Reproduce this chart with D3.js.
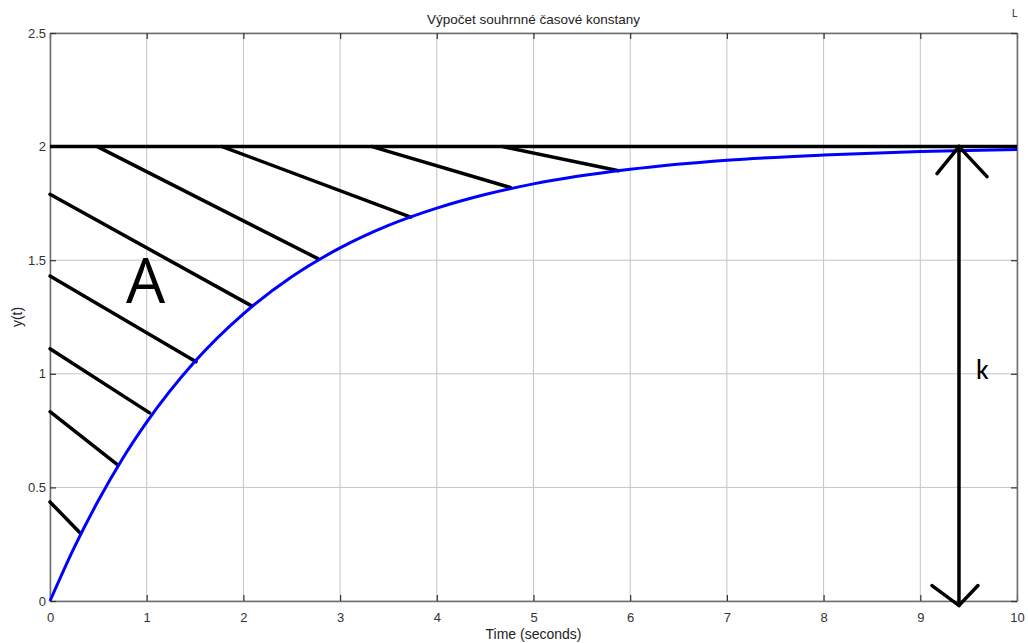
<!DOCTYPE html>
<html>
<head>
<meta charset="utf-8">
<script src="https://cdn.jsdelivr.net/npm/d3@7"></script>
<style>
  body { margin: 0; background: #fff; }
  text { font-family: "Liberation Sans", Arial, sans-serif; }
</style>
</head>
<body>
<div id="chart"></div>
<script>
// step response (time, y)
var timeVals = [0, 0.25, 0.5, 0.75, 1, 1.5, 2, 2.5, 3, 3.5, 4, 4.5, 5, 6, 7, 8, 9, 10];
var respVals = [0, 0.235, 0.442, 0.626, 0.787, 1.055, 1.264, 1.427, 1.554, 1.653, 1.729, 1.789, 1.836, 1.900, 1.940, 1.963, 1.978, 1.987];

var xTicks = [0, 1, 2, 3, 4, 5, 6, 7, 8, 9, 10];
var yTicks = [0, 0.5, 1, 1.5, 2, 2.5];

var gain = 2;

// hatch strokes: [x0, y0, x1, y1]
var hatches = [
  [0, 0.436, 0.31, 0.30],
  [0, 0.833, 0.70, 0.599],
  [0, 1.11, 1.03, 0.828],
  [0, 1.43, 1.51, 1.053],
  [0, 1.79, 2.08, 1.30],
  [0.49, 2, 2.77, 1.507],
  [1.78, 2, 3.73, 1.69],
  [3.33, 2, 4.76, 1.82],
  [4.68, 2, 5.88, 1.894]
];

var arrowX = 9.4;

var W = 1028, H = 643;
var margin = { top: 33, right: 11, bottom: 42, left: 50 };
var width = W - margin.left - margin.right;
var height = H - margin.top - margin.bottom;

var svg = d3.select("#chart").append("svg")
  .attr("width", W).attr("height", H);

var g = svg.append("g")
  .attr("transform", "translate(" + margin.left + "," + margin.top + ")");

var x = d3.scaleLinear().domain([0, 10]).range([0, width]);
var y = d3.scaleLinear().domain([0, 2.5]).range([height, 0]);

// grid
g.selectAll(".vgrid").data(xTicks).enter().append("line")
  .attr("x1", function (d) { return x(d); }).attr("x2", function (d) { return x(d); })
  .attr("y1", 0).attr("y2", height)
  .attr("stroke", "#c4c4c4").attr("stroke-width", 1);
g.selectAll(".hgrid").data(yTicks).enter().append("line")
  .attr("y1", function (d) { return y(d); }).attr("y2", function (d) { return y(d); })
  .attr("x1", 0).attr("x2", width)
  .attr("stroke", "#c4c4c4").attr("stroke-width", 1);

// axes
var fmt = function (d) { return String(d); };
var xAxis = g.append("g")
  .attr("transform", "translate(0," + height + ")")
  .call(d3.axisBottom(x).tickValues(xTicks).tickFormat(fmt).tickSizeInner(-6).tickSizeOuter(0).tickPadding(12));
var xAxisTop = g.append("g")
  .call(d3.axisTop(x).tickValues(xTicks).tickSizeInner(-6).tickSizeOuter(0).tickFormat(""));
var yAxis = g.append("g")
  .call(d3.axisLeft(y).tickValues(yTicks).tickFormat(fmt).tickSizeInner(-6).tickSizeOuter(0).tickPadding(4));
var yAxisRight = g.append("g")
  .attr("transform", "translate(" + width + ",0)")
  .call(d3.axisRight(y).tickValues(yTicks).tickSizeInner(-6).tickSizeOuter(0).tickFormat(""));

[xAxis, xAxisTop, yAxis, yAxisRight].forEach(function (a) {
  a.selectAll("path.domain").attr("stroke", "#6e6e6e").attr("stroke-width", 1.5);
  a.selectAll(".tick line").attr("stroke", "#333").attr("stroke-width", 1.2);
  a.selectAll(".tick text").attr("fill", "#333").style("font-size", "13px")
    .style("font-family", "'Liberation Sans', Arial, sans-serif");
});

// final value line
g.append("line")
  .attr("x1", x(0)).attr("x2", x(10))
  .attr("y1", y(gain)).attr("y2", y(gain))
  .attr("stroke", "#000").attr("stroke-width", 3.5);

// hatching
g.selectAll(".hatch").data(hatches).enter().append("line")
  .attr("x1", function (d) { return x(d[0]); }).attr("y1", function (d) { return y(d[1]); })
  .attr("x2", function (d) { return x(d[2]); }).attr("y2", function (d) { return y(d[3]); })
  .attr("stroke", "#000").attr("stroke-width", 3.5).attr("stroke-linecap", "round");

// response curve
var resp = timeVals.map(function (t, i) { return { t: t, v: respVals[i] }; });
g.append("path").datum(resp)
  .attr("fill", "none").attr("stroke", "#0000ff").attr("stroke-width", 3)
  .attr("d", d3.line().curve(d3.curveMonotoneX)
    .x(function (d) { return x(d.t); }).y(function (d) { return y(d.v); }));

// k arrow
var ax = x(arrowX), aTop = y(gain), aBot = y(-0.02);
var arrow = g.append("g").attr("stroke", "#000").attr("stroke-width", 3.5)
  .attr("fill", "none").attr("stroke-linecap", "round");
arrow.append("line").attr("x1", ax).attr("x2", ax).attr("y1", aTop).attr("y2", aBot);
arrow.append("path").attr("d", "M" + (ax - 22) + "," + (aTop + 27) + "L" + ax + "," + aTop + "L" + (ax + 28) + "," + (aTop + 30));
arrow.append("path").attr("d", "M" + (ax - 27) + "," + (aBot - 20) + "L" + ax + "," + aBot + "L" + (ax + 19) + "," + (aBot - 20));

g.append("text").attr("x", ax + 17).attr("y", y(1) + 5)
  .style("font-family", "Carlito, 'Liberation Sans', sans-serif").style("font-size", "28px")
  .attr("fill", "#000").text("k");

g.append("text").attr("x", x(0.99)).attr("y", y(1.31))
  .attr("text-anchor", "middle")
  .style("font-family", "'Open Sans', sans-serif").style("font-size", "62px")
  .style("font-weight", "500")
  .attr("fill", "#000").text("A");

// title and labels
svg.append("text").attr("x", margin.left + width / 2).attr("y", 24)
  .attr("text-anchor", "middle").style("font-size", "13.5px").attr("fill", "#222")
  .text("Výpočet souhrnné časové konstany");
svg.append("text").attr("x", margin.left + width / 2).attr("y", 639)
  .attr("text-anchor", "middle").style("font-size", "14px").attr("fill", "#222")
  .text("Time (seconds)");
svg.append("text").attr("transform", "translate(22," + (margin.top + y(1.25)) + ") rotate(-90)")
  .attr("text-anchor", "middle").style("font-size", "14px").attr("fill", "#222")
  .text("y(t)");
svg.append("text").attr("x", 1012).attr("y", 17)
  .style("font-size", "10px").attr("fill", "#222").text("L");
</script>
</body>
</html>
